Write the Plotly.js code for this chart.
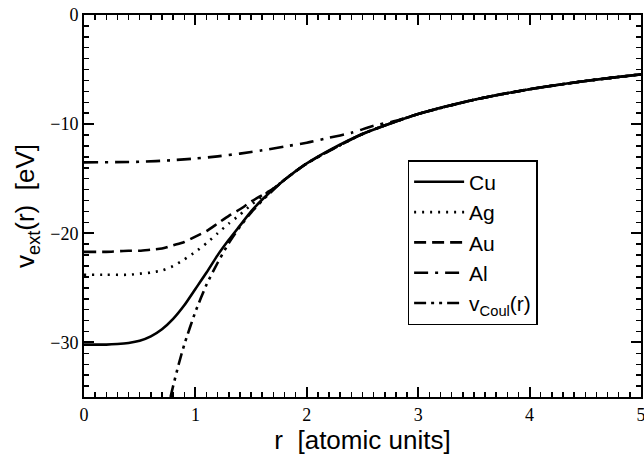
<!DOCTYPE html>
<html>
<head>
<meta charset="utf-8">
<script src="https://cdn.plot.ly/plotly-3.0.1.min.js"></script>
<style>html,body{margin:0;padding:0;background:#fff;}#chart{width:644px;height:457px;}</style>
</head>
<body>
<div id="chart"></div>
<div id="status" style="position:absolute;left:0;top:0;width:1px;height:1px;overflow:hidden;font-size:1px;color:transparent;font-family:'DejaVu Sans'"></div>
<script>
// r in atomic units, v_ext in eV
var rCu = [0, 0.2, 0.3, 0.4, 0.5, 0.6, 0.7, 0.8, 0.9, 1.0, 1.1, 1.2, 1.3, 1.4, 1.5, 1.6, 1.8, 2.0, 2.2, 2.5, 3.0, 3.5, 4.0, 4.5, 5.0];
var vCu = [-30.2, -30.2, -30.15, -30.05, -29.85, -29.45, -28.8, -27.85, -26.6, -25.1, -23.6, -22.0, -20.6, -19.3, -18.0, -16.9, -15.1, -13.6, -12.4, -10.9, -9.07, -7.77, -6.80, -6.05, -5.44];

var rAg = [0, 0.2, 0.4, 0.5, 0.6, 0.7, 0.8, 0.9, 1.0, 1.1, 1.2, 1.3, 1.4, 1.5, 1.6, 1.7, 1.8, 2.0, 2.5, 3.0, 3.5, 4.0, 4.5, 5.0];
var vAg = [-23.8, -23.8, -23.8, -23.7, -23.6, -23.4, -23.0, -22.4, -21.7, -20.9, -20.0, -19.1, -18.3, -17.4, -16.6, -15.9, -15.1, -13.6, -10.9, -9.07, -7.77, -6.80, -6.05, -5.44];

var rAu = [0, 0.2, 0.4, 0.5, 0.6, 0.7, 0.8, 0.9, 1.0, 1.1, 1.2, 1.3, 1.4, 1.5, 1.6, 1.7, 1.8, 2.0, 2.5, 3.0, 3.5, 4.0, 4.5, 5.0];
var vAu = [-21.7, -21.7, -21.6, -21.6, -21.5, -21.4, -21.1, -20.8, -20.3, -19.8, -19.1, -18.4, -17.8, -17.1, -16.5, -15.9, -15.1, -13.6, -10.9, -9.07, -7.77, -6.80, -6.05, -5.44];

var rAl = [0, 0.5, 0.8, 1.0, 1.2, 1.4, 1.6, 1.8, 2.0, 2.2, 2.4, 2.6, 2.8, 3.0, 3.5, 4.0, 4.5, 5.0];
var vAl = [-13.5, -13.45, -13.3, -13.15, -12.95, -12.7, -12.4, -12.05, -11.7, -11.25, -10.8, -10.15, -9.7, -9.07, -7.77, -6.80, -6.05, -5.44];

var rCoul = [0.777, 0.8, 0.85, 0.9, 1.0, 1.1, 1.2, 1.3, 1.4, 1.5, 1.6, 1.8, 2.0, 2.5, 3.0, 3.5, 4.0, 4.5, 5.0];
var vCoul = [-35.0, -34.0, -32.0, -30.2, -27.2, -24.7, -22.7, -20.9, -19.4, -18.1, -17.0, -15.1, -13.6, -10.9, -9.07, -7.77, -6.80, -6.05, -5.44];

var names = ['Cu', 'Ag', 'Au', 'Al', 'v<sub>Coul</sub>(r)'];

var lw = 2.6;
var traces = [
  {x: rCu, y: vCu, name: names[0], mode: 'lines', line: {color: '#000', width: lw, dash: 'solid', shape: 'spline', smoothing: 0.6}},
  {x: rAg, y: vAg, name: names[1], mode: 'lines', line: {color: '#000', width: lw, dash: '2px,6px', shape: 'spline', smoothing: 0.6}},
  {x: rAu, y: vAu, name: names[2], mode: 'lines', line: {color: '#000', width: lw, dash: '12px,6px', shape: 'spline', smoothing: 0.6}},
  {x: rAl, y: vAl, name: names[3], mode: 'lines', line: {color: '#000', width: lw, dash: '14px,7px,3px,7px', shape: 'spline', smoothing: 0.6}},
  {x: rCoul, y: vCoul, name: names[4], mode: 'lines', line: {color: '#000', width: lw, dash: '12px,5px,3px,5px,3px,5px', shape: 'spline', smoothing: 0.6}}
];

function axisBase() {
  return {
    showline: true, linecolor: '#000', linewidth: 2, mirror: 'allticks',
    ticks: 'inside', ticklen: 10, tickwidth: 2, tickcolor: '#000',
    showgrid: false, zeroline: false,
    ticklabeloverflow: 'allow',
    tickfont: {family: 'Liberation Serif', size: 18, color: '#000'}
  };
}

var layout = {
  width: 644, height: 457,
  margin: {l: 84, r: 3, t: 15, b: 60},
  paper_bgcolor: '#fff', plot_bgcolor: '#fff',
  showlegend: true,
  legend: {
    x: 0.581, y: 0.62, xanchor: 'left', yanchor: 'top',
    bordercolor: '#000', borderwidth: 1.5, bgcolor: '#fff',
    font: {family: 'Liberation Sans', size: 21, color: '#000'},
    itemwidth: 50
  },
  xaxis: Object.assign(axisBase(), {
    range: [0, 5], tickmode: 'linear', tick0: 0, dtick: 1,
    minor: {tickmode: 'linear', tick0: 0, dtick: 0.1, ticks: 'inside', ticklen: 5, tickwidth: 1.5, tickcolor: '#000', showgrid: false},
    title: {text: 'r \u00a0[atomic units]', font: {family: 'Liberation Sans', size: 26, color: '#000'}, standoff: 6}
  }),
  yaxis: Object.assign(axisBase(), {
    range: [-35, 0], tickmode: 'linear', tick0: 0, dtick: 10,
    minor: {tickmode: 'linear', tick0: 0, dtick: 1, ticks: 'inside', ticklen: 5, tickwidth: 1.5, tickcolor: '#000', showgrid: false},
    title: {text: 'v<sub>ext</sub>(r) \u00a0[eV]', font: {family: 'Liberation Sans', size: 26, color: '#000'}, standoff: 8}
  })
};

var statusEl = document.getElementById('status');
Plotly.newPlot('chart', traces, layout, {displayModeBar: false, staticPlot: true}).then(function(gd){
  statusEl.setAttribute('data-done', '1');
  statusEl.textContent = '\u00a0';
});
</script>
</body>
</html>
